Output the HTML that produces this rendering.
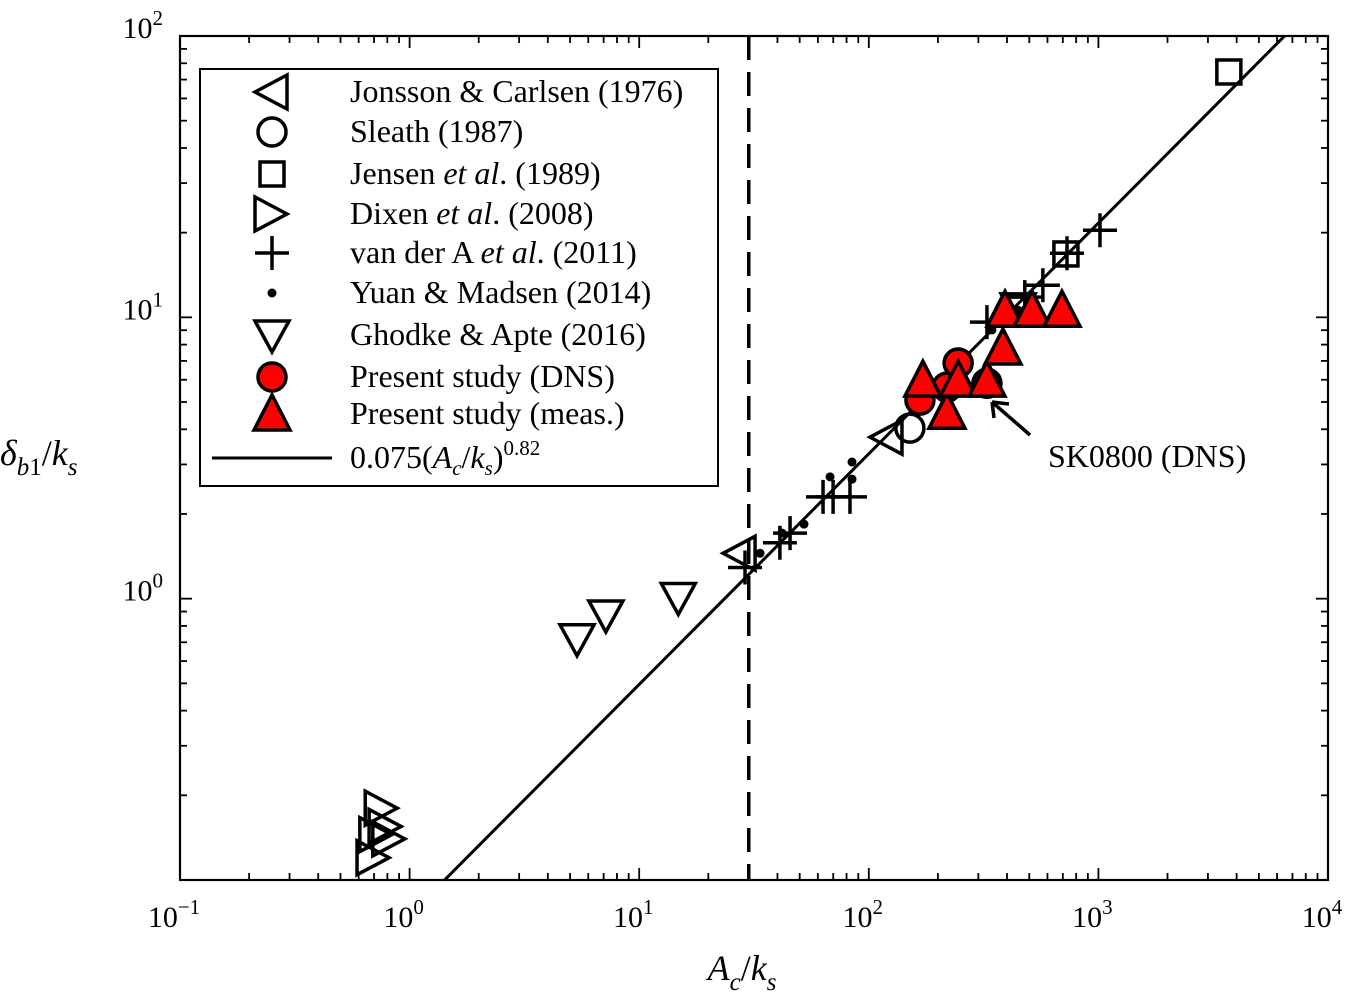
<!DOCTYPE html>
<html><head><meta charset="utf-8"><style>
html,body{margin:0;padding:0;background:#fff;}
svg{display:block;font-family:"Liberation Serif",serif;}
</style></head><body>
<svg id="chart" width="1351" height="998" viewBox="0 0 1351 998" xmlns="http://www.w3.org/2000/svg"></svg>
<script>
const jonssonX=[27.5,120], jonssonY=[1.45,3.75];
const sleathX=[151], sleathY=[4.04];
const jensenX=[3700,722], jensenY=[74.5,16.8];
const dixenX=[0.76,0.79,0.72,0.82,0.70], dixenY=[0.18,0.155,0.145,0.14,0.12];
const vanderX=[28.9,41,45.4,63.2,69.9,82.8,327,478,573,730,1016];
const vanderY=[1.29,1.58,1.71,2.30,2.30,2.30,9.62,11.8,13.0,16.9,20.4];
const yuanX=[33.6,41.9,52.2,67.8,84.5,84.5,344,447];
const yuanY=[1.45,1.71,1.84,2.71,3.06,2.66,9.02,10.6];
const ghodkeX=[5.36,7.16,14.8,447], ghodkeY=[0.72,0.875,1.01,10.8];
const dnsX=[167,219,245,327], dnsY=[5.08,5.65,6.88,5.83];
const measX=[172,219,245,327,384,392,514,694], measY=[5.98,4.60,5.98,5.98,7.78,10.6,10.6,10.6];
const fitCoef=0.075, fitExp=0.82, dashX=30;
const xTickExp=[-1,0,1,2,3,4], yTickExp=[0,1,2];

const L=180,R=1328,T=36,B=880;
const sx=v=>L+(Math.log10(v)+1)/5*(R-L);
const sy=v=>B-(Math.log10(v)+1)/3*(B-T);
const svg=document.getElementById('chart');
const NS='http://www.w3.org/2000/svg';
function mk(tag,attrs,parent){const e=document.createElementNS(NS,tag);for(const k in attrs)e.setAttribute(k,attrs[k]);(parent||svg).appendChild(e);return e;}

let box=mk('rect',{x:L,y:T,width:R-L,height:B-T,fill:'none',stroke:'#000','stroke-width':2.2});


for(let e=-1;e<4;e++){for(let m=1;m<10;m++){const v=m*Math.pow(10,e);const x=sx(v);const len=m==1?12:7;
 if(x>L+1&&x<R-1){mk('line',{x1:x,y1:B,x2:x,y2:B-len,stroke:'#000','stroke-width':1.8});mk('line',{x1:x,y1:T,x2:x,y2:T+len,stroke:'#000','stroke-width':1.8});}}}
for(let e=-1;e<2;e++){for(let m=1;m<10;m++){const v=m*Math.pow(10,e);const y=sy(v);const len=m==1?12:7;
 if(y>T+1&&y<B-1){mk('line',{x1:L,y1:y,x2:L+len,y2:y,stroke:'#000','stroke-width':1.8});mk('line',{x1:R,y1:y,x2:R-len,y2:y,stroke:'#000','stroke-width':1.8});}}}
xTickExp.forEach(e=>{const t=mk('text',{x:sx(Math.pow(10,e))-6,y:927,'font-size':30,'text-anchor':'middle'});t.innerHTML='10<tspan dy="-13" font-size="21">'+e.toString().replace('-','−')+'</tspan>';
 
 });
yTickExp.forEach(e=>{const t=mk('text',{x:163,y:sy(Math.pow(10,e))+2,'font-size':30,'text-anchor':'end'});t.innerHTML='10<tspan dy="-13" font-size="21">'+e.toString().replace('-','−')+'</tspan>';
 
 });

const defs=mk('defs',{});const cp=mk('clipPath',{id:'c'},defs);mk('rect',{x:L,y:T,width:R-L,height:B-T},cp);
const g=mk('g',{'clip-path':'url(#c)'});
let dl=mk('line',{x1:sx(dashX),y1:T,x2:sx(dashX),y2:B,stroke:'#000','stroke-width':3.5,'stroke-dasharray':'24,12'},g);


const x1=1,x2=10000;
let fl=mk('line',{x1:sx(x1),y1:sy(fitCoef*Math.pow(x1,fitExp)),x2:sx(x2),y2:sy(fitCoef*Math.pow(x2,fitExp)),stroke:'#000','stroke-width':3},g);



const S=17;
function marker(type,cx,cy,parent,fill){
 const st={fill:fill||'none',stroke:'#000','stroke-width':3.5};
 if(type==='left')return mk('polygon',Object.assign({points:`${cx-S},${cy} ${cx+S-2},${cy-S} ${cx+S-2},${cy+S}`},st),parent);
 if(type==='right')return mk('polygon',Object.assign({points:`${cx+S-2},${cy} ${cx-S},${cy-S} ${cx-S},${cy+S}`},st),parent);
 if(type==='down')return mk('polygon',Object.assign({points:`${cx},${cy+S} ${cx-S},${cy-S+3} ${cx+S},${cy-S+3}`},st),parent);
 if(type==='up')return mk('polygon',Object.assign({points:`${cx},${cy-S-2} ${cx-S-1},${cy+S-1} ${cx+S+1},${cy+S-1}`},st),parent);
 if(type==='circle')return mk('circle',Object.assign({cx,cy,r:14},st),parent);
 if(type==='square')return mk('rect',Object.assign({x:cx-12,y:cy-12,width:24,height:24},st),parent);
 if(type==='plus')return mk('path',{d:`M${cx-17},${cy}H${cx+17}M${cx},${cy-17}V${cy+17}`,stroke:'#000','stroke-width':3.5,fill:'none'},parent);
 if(type==='dot')return mk('circle',{cx,cy,r:4.5,fill:'#000'},parent);
}
function series(X,Y,type,name,fill){X.forEach((x,i)=>{const m=marker(type,sx(x),sy(Y[i]),g,fill);
 
 });}
series(dixenX,dixenY,'right','dixen-point');
series(ghodkeX,ghodkeY,'down','ghodke-point');
series(jonssonX,jonssonY,'left','jonsson-point');
series(sleathX,sleathY,'circle','sleath-point');
series(jensenX,jensenY,'square','jensen-point');
series(vanderX,vanderY,'plus','van-der-a-point');
series(yuanX,yuanY,'dot','yuan-point');
series(dnsX,dnsY,'circle','dns-point','#f00');
series(measX,measY,'up','meas-point','#f00');

let ar=mk('path',{d:'M1030,435 L992,402 M992,402 l17,2 M992,402 l2,16',stroke:'#000','stroke-width':3.5,fill:'none'});


let at=mk('text',{x:1048,y:467,'font-size':32});at.textContent='SK0800 (DNS)';



const lg=mk('g',{});


mk('rect',{x:200,y:69,width:518,height:417,fill:'#fff',stroke:'#000','stroke-width':2},lg);
const entries=[['left','Jonsson &amp; Carlsen (1976)'],['circle','Sleath (1987)'],['square','Jensen <tspan font-style="italic">et al</tspan>. (1989)'],['right','Dixen <tspan font-style="italic">et al</tspan>. (2008)'],['plus','van der A <tspan font-style="italic">et al</tspan>. (2011)'],['dot','Yuan &amp; Madsen (2014)'],['down','Ghodke &amp; Apte (2016)'],['circle','Present study (DNS)','#f00'],['up','Present study (meas.)','#f00'],['line','0.075(<tspan font-style="italic">A</tspan><tspan font-style="italic" font-size="21" dy="7">c</tspan><tspan dy="-7">/</tspan><tspan font-style="italic">k</tspan><tspan font-style="italic" font-size="21" dy="7">s</tspan><tspan dy="-7">)</tspan><tspan font-size="21" dy="-13">0.82</tspan>']];
const ys=[92,132,174,214,253,293,335,377,414,458];
entries.forEach((e,i)=>{const y=ys[i];
 if(e[0]==='line')mk('line',{x1:212,y1:y,x2:332,y2:y,stroke:'#000','stroke-width':3},lg);else marker(e[0],272,y,lg,e[2]);
 const t=mk('text',{x:350,y:y+10,'font-size':32},lg);t.innerHTML=e[1];
 
 });

let xt=mk('text',{x:742,y:980,'font-size':36,'text-anchor':'middle'});
xt.innerHTML='<tspan font-style="italic">A</tspan><tspan font-style="italic" font-size="25" dy="10">c</tspan><tspan dy="-10">/</tspan><tspan font-style="italic">k</tspan><tspan font-style="italic" font-size="25" dy="10">s</tspan>';


let yt=mk('text',{x:0,y:465,'font-size':36});
yt.innerHTML='<tspan font-style="italic">δ</tspan><tspan font-style="italic" font-size="25" dy="10">b</tspan><tspan font-size="25">1</tspan><tspan dy="-10">/</tspan><tspan font-style="italic">k</tspan><tspan font-style="italic" font-size="25" dy="10">s</tspan>';


</script>
</body></html>
